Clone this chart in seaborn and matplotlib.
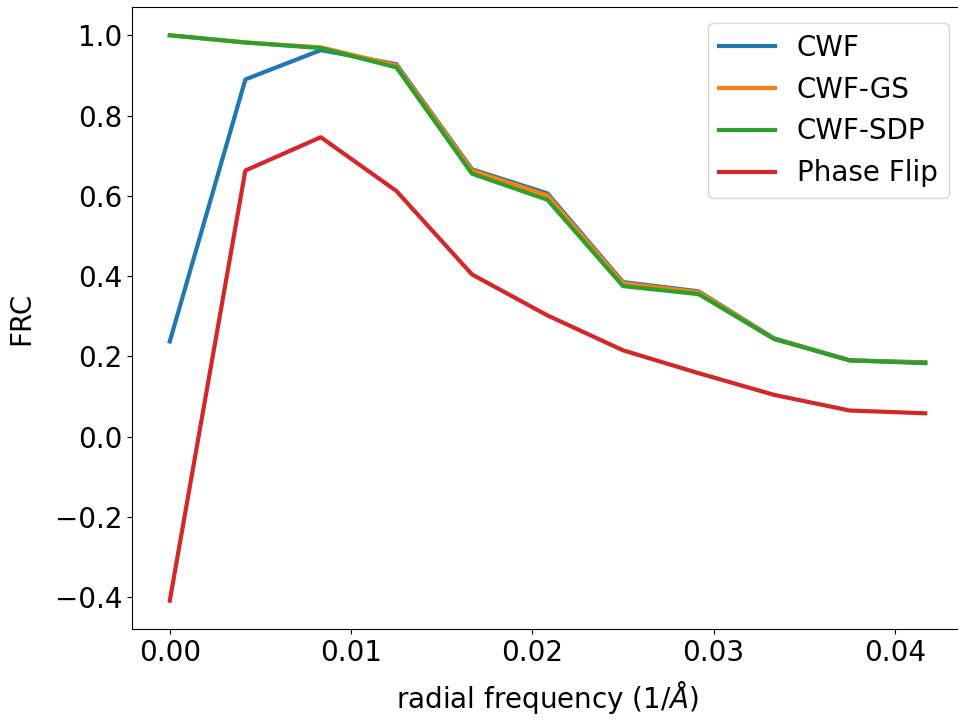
import matplotlib
matplotlib.use("Agg")
import matplotlib.pyplot as plt
import seaborn as sns
import pandas as pd

freq = [0.0, 0.00417, 0.00833, 0.0125, 0.01667, 0.02083, 0.025, 0.02917, 0.03333, 0.0375, 0.04167]
cwf = [0.237, 0.890, 0.963, 0.928, 0.666, 0.606, 0.385, 0.362, 0.245, 0.190, 0.185]
cwf_gs = [1.0, 0.982, 0.970, 0.925, 0.663, 0.601, 0.382, 0.360, 0.244, 0.190, 0.184]
cwf_sdp = [1.0, 0.982, 0.968, 0.920, 0.655, 0.590, 0.375, 0.355, 0.243, 0.190, 0.183]
phase_flip = [-0.409, 0.663, 0.746, 0.612, 0.404, 0.302, 0.215, 0.158, 0.104, 0.065, 0.058]
names = ["CWF", "CWF-GS", "CWF-SDP", "Phase Flip"]
series = [cwf, cwf_gs, cwf_sdp, phase_flip]

rows = []
for n, vals in zip(names, series):
    for f, v in zip(freq, vals):
        rows.append({"freq": f, "FRC": v, "method": n})
df = pd.DataFrame(rows)

plt.rcParams["font.family"] = ["DejaVu Sans"]
plt.rcParams["font.size"] = 20

fig = plt.figure(figsize=(9.58, 7.2), dpi=100)
ax = fig.add_axes([132 / 958, 91 / 720, 831 / 958, 622 / 720])
sns.lineplot(data=df, x="freq", y="FRC", hue="method", hue_order=names,
             palette=["#1f77b4", "#ff7f0e", "#2ca02c", "#d62728"],
             linewidth=3, ax=ax, sort=False)
ax.set_xlabel("radial frequency (1/$\\AA$)", labelpad=9)
ax.set_ylabel("FRC")
ax.yaxis.set_label_coords(-0.117, 0.5)
ax.set_xticks([0.0, 0.01, 0.02, 0.03, 0.04])
ax.set_xticklabels(["0.00", "0.01", "0.02", "0.03", "0.04"])
ax.set_yticks([-0.4, -0.2, 0.0, 0.2, 0.4, 0.6, 0.8, 1.0])
ax.set_yticklabels(["\u22120.4", "\u22120.2", "0.0", "0.2", "0.4", "0.6", "0.8", "1.0"])
handles, labels = ax.get_legend_handles_labels()
ax.legend(handles, labels, loc="upper right", bbox_to_anchor=(0.983, 0.975),
          borderaxespad=0, title=None)
fig.savefig("out.png", dpi=100)
